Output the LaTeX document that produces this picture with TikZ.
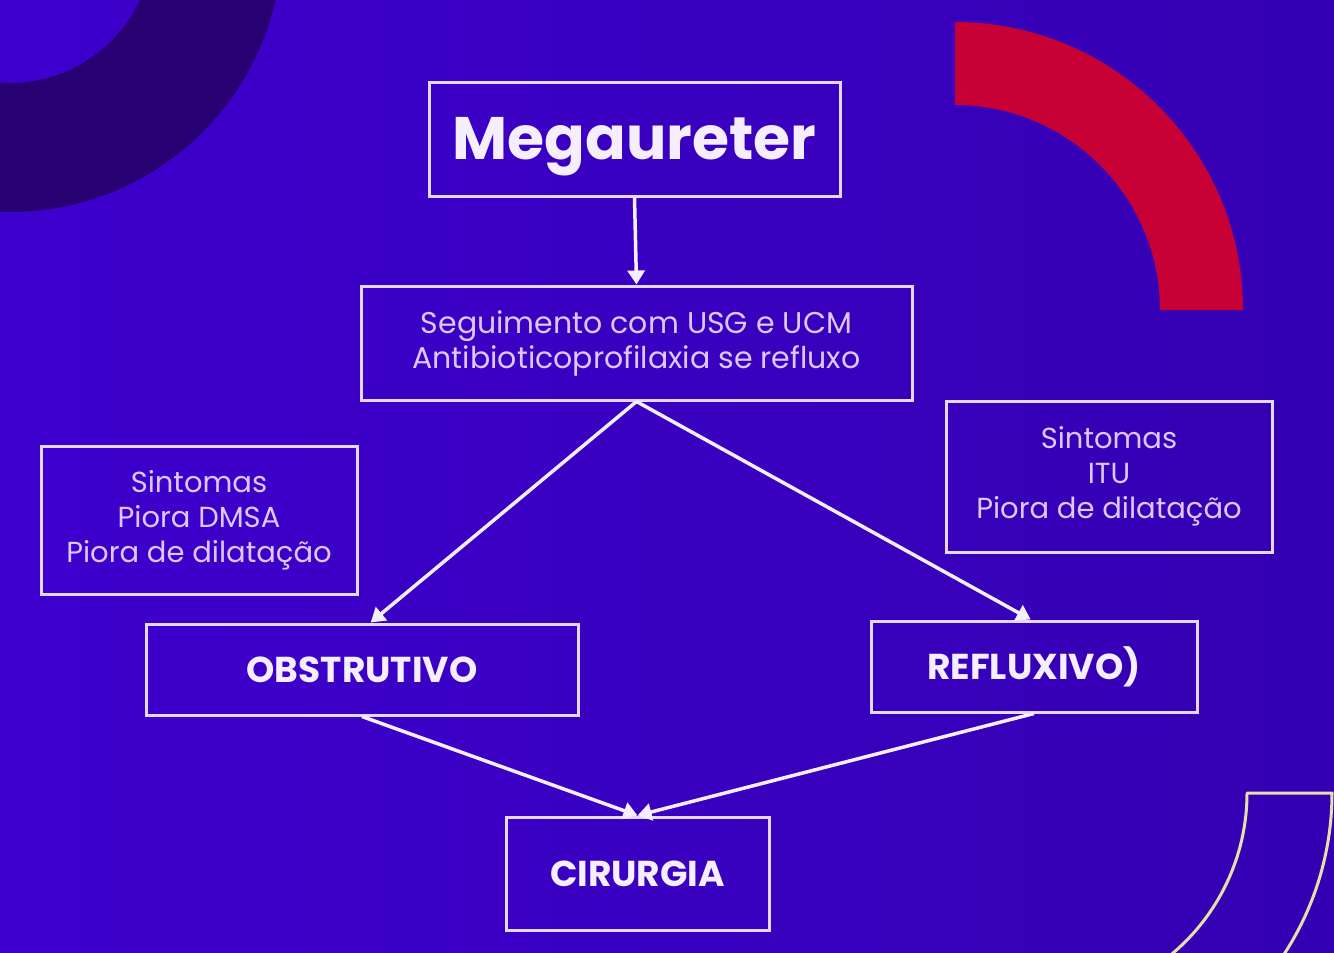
\documentclass[tikz,border=0pt]{standalone}
\usepackage{fontspec}
\setmainfont{Poppins}
\usetikzlibrary{arrows.meta,calc}
\definecolor{bgL}{HTML}{3E00CE}
\definecolor{bgR}{HTML}{3500B2}
\definecolor{darkring}{HTML}{270072}
\definecolor{redring}{HTML}{C70036}
\definecolor{yelline}{HTML}{E6E0A8}
\definecolor{boxc}{HTML}{E4D8FF}
\definecolor{notec}{HTML}{DCC8FF}
\definecolor{arrc}{HTML}{F4EEFF}
\tikzset{
  box/.style={draw=boxc, line width=3pt, inner sep=0pt, align=center},
  notebox/.style={box, text=notec, font=\fontsize{29}{35}\selectfont},
  boldbox/.style={box, text=arrc, font=\bfseries\fontsize{36}{40}\selectfont},
  arr/.style={draw=arrc, line width=3.5pt, -{Triangle[length=14pt,width=17pt]}}
}
\begin{document}
\begin{tikzpicture}[x=1pt,y=-1pt]
\useasboundingbox (0,0) rectangle (1334,953);
\shade[left color=bgL,right color=bgR] (0,0) rectangle (1334,953);
\begin{scope}
\clip (0,0) rectangle (1334,953);
% dark ring top-left
\fill[darkring,even odd rule] (10,-60) circle[radius=272] (10,-60) circle[radius=143];
% red quarter ring top-right
\fill[redring] (955,22) arc[start angle=-90,end angle=0,radius=288]
  -- (1160,310) arc[start angle=0,end angle=-90,radius=205] -- cycle;
% yellow outlined ring bottom-right
\draw[yelline,line width=3pt,line join=round]
  ($(1037,793)+(60:210)$) arc[start angle=60,end angle=0,radius=210]
  -- (1332,793) arc[start angle=0,end angle=60,radius=295];
\end{scope}

\node[box, minimum width=411pt, minimum height=114pt, text=arrc,
      font=\bfseries\fontsize{60}{72}\selectfont] (meg) at (634.5,139) {\raisebox{-8pt}[\height][\depth]{Megaureter}};
\node[notebox, minimum width=551pt, minimum height=114pt, font=\fontsize{30}{35}\selectfont] (seg) at (636.5,343)
  {Seguimento com USG e UCM\\Antibioticoprofilaxia se refluxo};
\node[notebox, minimum width=316pt, minimum height=148pt] (nl) at (199,520)
  {Sintomas\\Piora DMSA\\Piora de dilatação};
\node[notebox, minimum width=326pt, minimum height=151pt] (nr) at (1109,476.5)
  {Sintomas\\ITU\\Piora de dilatação};
\node[boldbox, minimum width=432pt, minimum height=91pt] (obs) at (362,669.5) {OBSTRUTIVO};
\node[boldbox, minimum width=326pt, minimum height=91pt] (ref) at (1034,666.5) {REFLUXIVO)};
\node[boldbox, minimum width=263pt, minimum height=113pt] (cir) at (637.5,873.5) {CIRURGIA};

\draw[arr] (meg.south) -- (seg.north);
\draw[arr] (seg.south) -- ($(obs.north west)!0.52!(obs.north east)$);
\draw[arr] (seg.south) -- ($(ref.north west)!0.49!(ref.north east)$);
\draw[arr] (obs.south) -- (cir.north);
\draw[arr] (ref.south) -- (cir.north);
\end{tikzpicture}
\end{document}
